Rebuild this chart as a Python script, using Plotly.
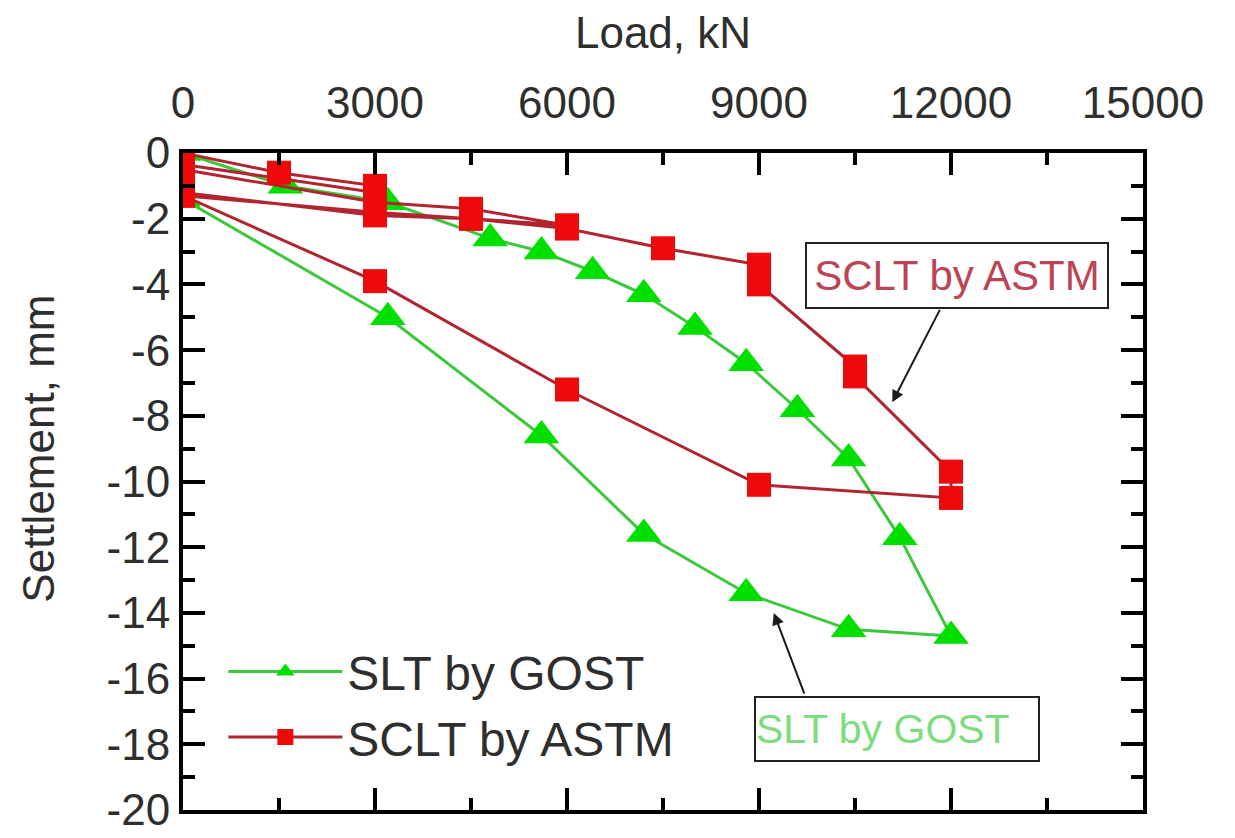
import plotly.graph_objects as go

# ---- data ----
gost_load = [0, 1600, 3200, 4800, 5600, 6400, 7200, 8000, 8800, 9600, 10400, 11200, 12000,
             10400, 8800, 7200, 5600, 3200, 0]
gost_settle = [0, -1.0, -1.5, -2.6, -3.0, -3.6, -4.3, -5.3, -6.4, -7.8, -9.3, -11.7, -14.7,
               -14.5, -13.4, -11.6, -8.6, -5.0, -1.4]

astm_load = [0, 1500, 3000, 3000, 0, 0, 3000, 4500, 6000, 4500, 3000, 0, 0, 3000, 4500, 6000,
             7500, 9000, 9000, 10500, 10500, 12000, 12000, 9000, 6000, 3000, 0]
astm_settle = [0, -0.6, -1.0, -1.2, -0.35, -0.5, -1.5, -1.7, -2.2, -2.0, -1.9, -1.2, -1.3, -1.8,
               -2.0, -2.3, -2.9, -3.4, -4.0, -6.5, -6.8, -9.7, -10.5, -10.1, -7.2, -3.9, -1.3]

x_tick_vals = [0, 3000, 6000, 9000, 12000, 15000]
x_tick_text = ["0", "3000", "6000", "9000", "12000", "15000"]
y_tick_vals = [0, -2, -4, -6, -8, -10, -12, -14, -16, -18, -20]
y_tick_text = ["0", "-2", "-4", "-6", "-8", "-10", "-12", "-14", "-16", "-18", "-20"]

FONT = "Liberation Sans, Arial, sans-serif"
TXT = "#2e2e2e"

fig = go.Figure()
fig.add_trace(go.Scatter(
    x=gost_load, y=gost_settle, mode="lines+markers", name="SLT by GOST",
    line=dict(color="#3cc83c", width=3),
    marker=dict(symbol="triangle-up", size=31, color="#00e000", line=dict(width=0)),
))
fig.add_trace(go.Scatter(
    x=astm_load, y=astm_settle, mode="lines+markers", name="SCLT by ASTM",
    line=dict(color="#b02530", width=3),
    marker=dict(symbol="square", size=24, color="#ee0a0a", line=dict(width=0)),
))

axis_common = dict(
    showline=True, linecolor="black", linewidth=4, mirror="allticks",
    ticks="inside", ticklen=22, tickwidth=4, tickcolor="black",
    showgrid=False, zeroline=False, ticklabeloverflow="allow",
    tickfont=dict(family=FONT, size=44, color=TXT),
)

fig.update_xaxes(
    range=[0, 15000], side="top", tickmode="array",
    tickvals=x_tick_vals, ticktext=x_tick_text,
    minor=dict(ticks="inside", ticklen=12, tickwidth=4, tickcolor="black", dtick=1500, tick0=0),
    title=dict(text="Load, kN", font=dict(family=FONT, size=44, color=TXT), standoff=24),
    ticklabelstandoff=13,
    **axis_common,
)
fig.update_yaxes(
    range=[-20, 0], tickmode="array",
    tickvals=y_tick_vals, ticktext=y_tick_text,
    minor=dict(ticks="inside", ticklen=12, tickwidth=4, tickcolor="black", dtick=1, tick0=0),
    ticklabelstandoff=0,
    **axis_common,
)

annotations = [
    # y-axis title
    dict(text="Settlement, mm", xref="paper", yref="paper", x=-0.15, y=0.55,
         textangle=-90, showarrow=False, xanchor="center", yanchor="middle",
         font=dict(family=FONT, size=44, color=TXT)),
    # labelled boxes
    dict(text="SCLT by ASTM", x=12100, y=-3.72, xref="x", yref="y", showarrow=False,
         font=dict(family=FONT, size=42, color="#bc4454"),
         bordercolor="#222", borderwidth=2, borderpad=0, bgcolor="white",
         width=300, height=63),
    dict(text="SLT by GOST", x=11160, y=-17.53, xref="x", yref="y", showarrow=False,
         font=dict(family=FONT, size=41, color="#7edc7e"), align="left",
         bordercolor="#222", borderwidth=2, borderpad=0, bgcolor="white",
         width=282, height=62),
    # arrows
    dict(text="", x=11083, y=-7.59, ax=11837, ay=-4.73, xref="x", yref="y",
         axref="x", ayref="y", showarrow=True, arrowhead=2, arrowsize=1.2,
         arrowwidth=2, arrowcolor="#1a1a1a"),
    dict(text="", x=9231, y=-14.0, ax=9717, ay=-16.5, xref="x", yref="y",
         axref="x", ayref="y", showarrow=True, arrowhead=2, arrowsize=1.2,
         arrowwidth=2, arrowcolor="#1a1a1a"),
]

fig.update_layout(
    width=1235, height=838,
    margin=dict(l=175, r=100, t=145, b=29),
    paper_bgcolor="white", plot_bgcolor="white",
    showlegend=True,
    legend=dict(x=0.042, y=0.268, xanchor="left", yanchor="top",
                bgcolor="rgba(0,0,0,0)", font=dict(family=FONT, size=48, color=TXT),
                itemwidth=114, tracegroupgap=0),
    annotations=annotations,
)

fig.write_html("out.html")
